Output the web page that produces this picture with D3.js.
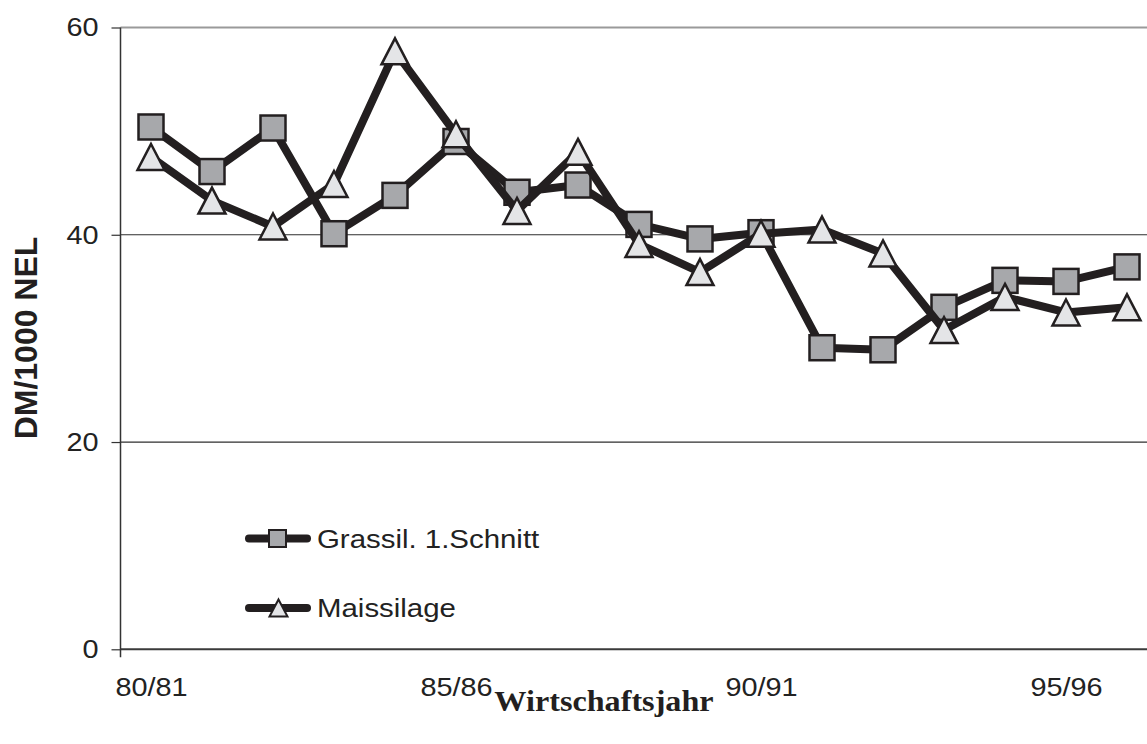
<!DOCTYPE html>
<html>
<head>
<meta charset="utf-8">
<script src="https://cdn.jsdelivr.net/npm/d3@7"></script>
<style>
  html, body { margin: 0; padding: 0; background: #fff; }
  svg { display: block; }
</style>
</head>
<body>
<svg id="chart" width="1147" height="744"></svg>
<script>
// Wirtschaftsjahre (seasons) on the category axis
const categories = ["80/81","81/82","82/83","83/84","84/85","85/86","86/87","87/88","88/89",
                    "89/90","90/91","91/92","92/93","93/94","94/95","95/96","96/97"];
// DM per 1000 NEL
const grassil = [50.4,46.1,50.3,40.1,43.8,49.0,44.1,44.8,41.0,39.6,40.2,29.1,28.9,33.0,35.6,35.5,36.9];
const mais    = [47.5,43.3,40.8,44.9,57.7,49.7,42.3,48.0,39.1,36.4,40.1,40.5,38.2,30.8,34.0,32.5,33.0];
const seriesNames = ["Grassil. 1.Schnitt", "Maissilage"];
const xTickLabels = ["80/81","85/86","90/91","95/96"];
const yTicks = [0, 20, 40, 60];

const svg = d3.select("#chart");
const INK = "#231f20";
const SX = 1.11; // horizontal text stretch

const x = d3.scalePoint().domain(categories).range([151, 1127]);
const y = d3.scaleLinear().domain([0, 60]).range([649.3, 27.5]);
const plotLeft = 120.5, plotRight = 1147;

// gridlines
svg.append("g").selectAll("line")
  .data(yTicks)
  .join("line")
  .attr("x1", plotLeft).attr("x2", plotRight)
  .attr("y1", d => y(d)).attr("y2", d => y(d))
  .attr("stroke", d => d === 60 ? "#9a9a9a" : (d === 0 ? "#3a3a3a" : "#2e2e2e"))
  .attr("stroke-width", d => d === 60 ? 2 : (d === 0 ? 2 : 1.2));

// y axis
const yAxis = svg.append("g")
  .attr("transform", `translate(${plotLeft},0)`)
  .call(d3.axisLeft(y).tickValues(yTicks).tickSize(9).tickPadding(13).tickSizeOuter(0));
yAxis.select(".domain").remove();
yAxis.selectAll(".tick line").attr("stroke", "#333").attr("stroke-width", 1.2);
yAxis.selectAll(".tick text")
  .attr("font-family", "'Liberation Sans', Arial, sans-serif")
  .attr("font-size", 26).attr("fill", "#222")
  .attr("transform", `scale(${SX},1)`)
  .attr("x", -(9 + 13) / SX);
yAxis.append("line")
  .attr("x1", 0).attr("x2", 0)
  .attr("y1", y(60)).attr("y2", y(0) + 8)
  .attr("stroke", "#333").attr("stroke-width", 1.5);

// x axis labels
const xAxis = svg.append("g")
  .attr("transform", `translate(0,${y(0)})`)
  .call(d3.axisBottom(x).tickValues(xTickLabels).tickSize(0).tickPadding(28));
xAxis.select(".domain").remove();
xAxis.selectAll(".tick text")
  .attr("font-family", "'Liberation Sans', Arial, sans-serif")
  .attr("font-size", 26).attr("fill", "#222")
  .attr("transform", `scale(${SX},1)`);

// axis titles
svg.append("text")
  .attr("transform", `translate(604,711) scale(${SX},1)`)
  .attr("text-anchor", "middle")
  .attr("font-family", "'Liberation Serif', 'Times New Roman', serif")
  .attr("font-weight", "bold").attr("font-size", 29).attr("fill", INK)
  .text("Wirtschaftsjahr");

svg.append("text")
  .attr("transform", "translate(36.5,338) rotate(-90)")
  .attr("text-anchor", "middle")
  .attr("font-family", "'Liberation Sans', Arial, sans-serif")
  .attr("font-weight", "bold").attr("font-size", 32).attr("fill", INK)
  .text("DM/1000 NEL");

// marker shapes
const SQ = 25, TW = 27, TH = 26;
const triPath = (w, h) => `M0,${-h/2}L${w/2},${h/2}L${-w/2},${h/2}Z`;

const line = d3.line()
  .x((d, i) => x(categories[i]))
  .y(d => y(d));

function drawSeries(values, kind) {
  const g = svg.append("g");
  g.append("path")
    .datum(values)
    .attr("d", line)
    .attr("fill", "none")
    .attr("stroke", INK)
    .attr("stroke-width", 8)
    .attr("stroke-linejoin", "round");
  if (kind === "square") {
    g.selectAll("rect").data(values).join("rect")
      .attr("x", (d, i) => x(categories[i]) - SQ / 2)
      .attr("y", d => y(d) - SQ / 2)
      .attr("width", SQ).attr("height", SQ)
      .attr("fill", "#a7a8ab").attr("stroke", INK).attr("stroke-width", 2.5);
  } else {
    g.selectAll("path.m").data(values).join("path")
      .attr("class", "m")
      .attr("transform", (d, i) => `translate(${x(categories[i])},${y(d)})`)
      .attr("d", triPath(TW, TH))
      .attr("fill", "#e4e5e7").attr("stroke", INK).attr("stroke-width", 2.5)
      .attr("stroke-linejoin", "miter");
  }
}
drawSeries(grassil, "square");
drawSeries(mais, "triangle");

// legend
const legend = svg.append("g");
const legendRows = [
  { name: seriesNames[0], kind: "square", y: 538.5 },
  { name: seriesNames[1], kind: "triangle", y: 608 }
];
legendRows.forEach(r => {
  const row = legend.append("g").attr("transform", `translate(0,${r.y})`);
  row.append("line")
    .attr("x1", 249).attr("x2", 307).attr("y1", 0).attr("y2", 0)
    .attr("stroke", INK).attr("stroke-width", 8).attr("stroke-linecap", "round");
  if (r.kind === "square") {
    row.append("rect")
      .attr("x", 277.5 - 8.5).attr("y", -8.5).attr("width", 17).attr("height", 17)
      .attr("fill", "#a7a8ab").attr("stroke", INK).attr("stroke-width", 2);
  } else {
    row.append("path")
      .attr("transform", "translate(278.5,0)")
      .attr("d", triPath(18, 17))
      .attr("fill", "#e4e5e7").attr("stroke", INK).attr("stroke-width", 2);
  }
  row.append("text")
    .attr("transform", `translate(317,9.3) scale(${SX},1)`)
    .attr("font-family", "'Liberation Sans', Arial, sans-serif")
    .attr("font-size", 26.5).attr("fill", "#222")
    .text(r.name);
});
</script>
</body>
</html>
